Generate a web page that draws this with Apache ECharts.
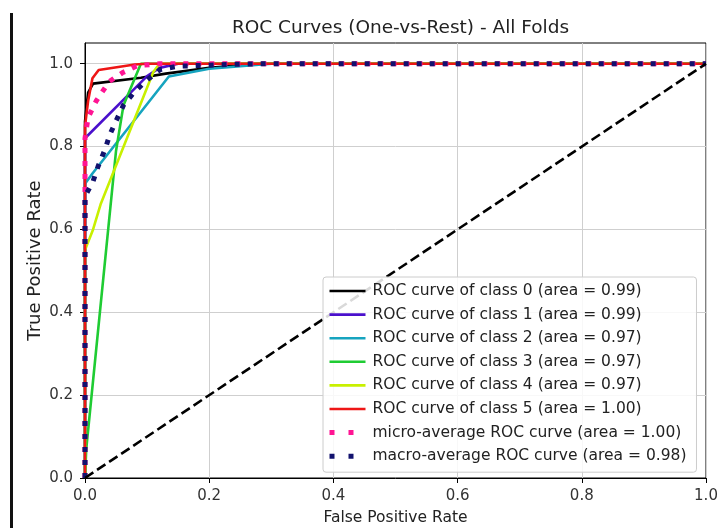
<!DOCTYPE html>
<html>
<head>
<meta charset="utf-8">
<script src="https://cdn.jsdelivr.net/npm/echarts@6/dist/echarts.min.js"></script>
<style>
  html, body { margin: 0; padding: 0; background: #fff; }
  #chart { width: 724px; height: 528px; }
</style>
</head>
<body>
<div id="chart"></div>
<script>
// ROC curve points, [false positive rate, true positive rate]
const rocClass0 = [[0, 0], [0, 0.86], [0.005, 0.93], [0.013, 0.952], [0.09, 0.966], [0.13, 0.976], [0.2, 0.99], [0.28, 1.0], [1, 1]];
const rocClass1 = [[0, 0], [0, 0.82], [0.1, 0.97], [0.12, 0.99], [0.15, 1.0], [1, 1]];
const rocClass2 = [[0, 0], [0, 0.71], [0.012, 0.735], [0.135, 0.969], [0.2, 0.988], [0.3, 1.0], [1, 1]];
const rocClass3 = [[0, 0], [0.002, 0.07], [0.05, 0.79], [0.062, 0.9], [0.09, 1.0], [1, 1]];
const rocClass4 = [[0, 0], [0, 0.55], [0.013, 0.6], [0.025, 0.66], [0.11, 0.98], [0.12, 1.0], [1, 1]];
const rocClass5 = [[0, 0], [0, 0.85], [0.005, 0.91], [0.012, 0.965], [0.022, 0.985], [0.08, 0.998], [0.1, 1.0], [1, 1]];
const rocMicro = [[0, 0], [0, 0.82], [0.005, 0.87], [0.018, 0.91], [0.039, 0.957], [0.06, 0.978], [0.084, 0.995], [0.12, 1.0], [1, 1]];
const rocMacro = [[0, 0], [0, 0.68], [0.013, 0.716], [0.021, 0.752], [0.032, 0.792], [0.04, 0.829], [0.051, 0.865], [0.062, 0.9], [0.078, 0.929], [0.097, 0.957], [0.121, 0.986], [0.15, 0.994], [0.25, 0.999], [0.3, 1.0], [1, 1]];
const chanceLine = [[0, 0], [1, 1]];

const classNames = [
  'ROC curve of class 0 (area = 0.99)',
  'ROC curve of class 1 (area = 0.99)',
  'ROC curve of class 2 (area = 0.97)',
  'ROC curve of class 3 (area = 0.97)',
  'ROC curve of class 4 (area = 0.97)',
  'ROC curve of class 5 (area = 1.00)'
];
const microName = 'micro-average ROC curve (area = 1.00)';
const macroName = 'macro-average ROC curve (area = 0.98)';

const xTicks = [0, 0.2, 0.4, 0.6, 0.8, 1.0];
const yTicks = [0, 0.2, 0.4, 0.6, 0.8, 1.0];

const classColors = ['#000000', '#4a10cc', '#16a4bf', '#1fcc33', '#c8f000', '#ee1616'];
const FONT = 'DejaVu Sans';
const SOLID_W = 2.6;
const DOT_W = 5;

function curve(name, data, color, width, dash) {
  return {
    name: name,
    type: 'line',
    data: data,
    symbol: 'none',
    showSymbol: false,
    animation: false,
    silent: true,
    lineStyle: { color: color, width: width, type: dash || 'solid', cap: 'butt' },
    itemStyle: { color: color }
  };
}

const classData = [rocClass0, rocClass1, rocClass2, rocClass3, rocClass4, rocClass5];
const series = classData.map((d, i) => curve(classNames[i], d, classColors[i], SOLID_W));
series.push(curve(microName, rocMicro, '#ff1493', DOT_W, [5, 8]));
series.push(curve(macroName, rocMacro, '#12126e', DOT_W, [5, 8]));
series.push(curve('chance', chanceLine, '#000000', SOLID_W, [10, 4.5]));

const legendItems = classNames.map(n => ({ name: n, lineStyle: { width: SOLID_W } }))
  .concat([
    { name: microName, lineStyle: { width: DOT_W, type: [5, 14] } },
    { name: macroName, lineStyle: { width: DOT_W, type: [5, 14] } }
  ]);

const chart = echarts.init(document.getElementById('chart'), null, { renderer: 'canvas' });
chart.setOption({
  backgroundColor: '#ffffff',
  animation: false,
  textStyle: { fontFamily: FONT },
  title: {
    text: 'ROC Curves (One-vs-Rest) - All Folds',
    left: 395.5,
    textAlign: 'center',
    top: 14,
    textStyle: { fontFamily: FONT, fontSize: 18.5, fontWeight: 'normal', color: '#222' }
  },
  graphic: [
    { type: 'rect', left: 10, top: 13, shape: { width: 3, height: 515 }, style: { fill: '#111' } }
  ],
  grid: {
    left: 85, right: 18, top: 43, bottom: 50,
    outerBoundsMode: 'none',
    containLabel: false,
    show: true, borderColor: '#000', borderWidth: 1, backgroundColor: 'transparent'
  },
  legend: {
    data: legendItems,
    orient: 'vertical',
    left: 323,
    top: 277,
    itemWidth: 36,
    itemHeight: 14,
    itemGap: 7.6,
    padding: [6, 10, 8, 4],
    backgroundColor: 'rgba(255,255,255,0.85)',
    borderColor: '#cccccc',
    borderWidth: 1,
    borderRadius: 3,
    itemStyle: { opacity: 0 },
    textStyle: { fontFamily: FONT, fontSize: 15.5, color: '#222', padding: [0, 0, 0, 2] },
    selectedMode: false
  },
  xAxis: {
    type: 'value',
    min: 0, max: 1, interval: 0.2,
    name: 'False Positive Rate',
    nameLocation: 'middle',
    nameGap: 32,
    nameMoveOverlap: false,
    nameTextStyle: { fontFamily: FONT, fontSize: 15.5, color: '#222' },
    axisLine: { show: true, onZero: false, lineStyle: { color: '#000', width: 1 } },
    axisTick: { show: true, inside: false, length: 5, lineStyle: { color: '#000' }, customValues: xTicks },
    axisLabel: { customValues: xTicks, formatter: v => v.toFixed(1), fontFamily: FONT, fontSize: 15, color: '#333', margin: 11 },
    splitLine: { show: true, lineStyle: { color: '#cfcfcf', width: 1 } }
  },
  yAxis: {
    type: 'value',
    min: 0, max: 1.05, interval: 0.2,
    name: 'True Positive Rate',
    nameLocation: 'middle',
    nameGap: 41,
    nameMoveOverlap: false,
    nameRotate: 90,
    nameTextStyle: { fontFamily: FONT, fontSize: 18, color: '#222' },
    axisLine: { show: true, onZero: false, lineStyle: { color: '#000', width: 1 } },
    axisTick: { show: true, inside: false, length: 5, lineStyle: { color: '#000' }, customValues: yTicks },
    axisLabel: { customValues: yTicks, formatter: v => v.toFixed(1), fontFamily: FONT, fontSize: 15, color: '#333', margin: 12 },
    splitLine: { show: true, lineStyle: { color: '#cfcfcf', width: 1 } }
  },
  series: series
});
</script>
</body>
</html>
